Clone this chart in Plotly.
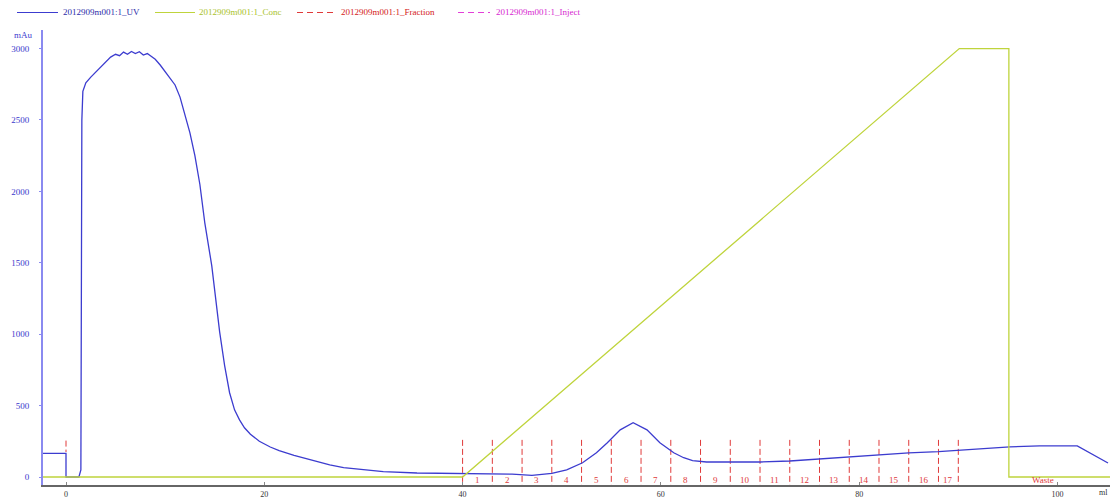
import plotly.graph_objects as go

# ---------------- data ----------------
uv_x = [-2.32, 0, 0, 1.3, 1.5, 1.6, 1.7, 2.0, 2.5, 3.0, 3.5, 4.0, 4.5, 5.0, 5.4, 5.8, 6.2, 6.6,
        7.0, 7.4, 7.8, 8.2, 8.6, 9.0, 9.5, 10.0, 10.5, 11.0, 11.5, 12.0, 12.5, 13.0, 13.5,
        14.0, 14.7, 15.5, 16.0, 16.5, 17.0, 17.5, 18.0, 18.6, 19.5, 20.6, 21.5, 23.0, 25.0,
        26.6, 28.0, 30.7, 32.0, 35.4, 39, 42, 45, 47, 49, 50.5,
        52.1, 53.5, 54.6, 55.9, 57.2, 58.6, 59.9, 61.3, 62.3, 63.2, 64.6, 67, 70, 73, 76,
        79, 82, 85, 88, 90.5, 95.2, 98.2, 102, 105.1]
uv_y = [165, 165, 0, 0, 50, 2500, 2700, 2760, 2800, 2835, 2870, 2905, 2940, 2960, 2950, 2975,
        2960, 2980, 2965, 2978, 2955, 2965, 2945, 2925, 2885, 2840, 2795, 2745, 2660, 2540,
        2410, 2250, 2050, 1780, 1480, 1015, 780, 590, 470, 400, 345, 300, 250, 210, 185, 152,
        112, 85, 66, 44, 38, 28, 25, 22, 20, 12, 25, 50,
        100, 170, 240, 330, 380, 330, 240, 170, 135, 115, 105, 105, 105, 112, 127, 141, 155,
        169, 178, 190, 211, 218, 218, 98]

conc_x = [-2.32, 40, 90.1, 95.1, 95.1, 105.3]
conc_y = [0, 0, 100, 100, 0, 0]  # %B

frac_bounds = [40, 43, 46, 49, 52, 55, 58, 61, 64, 67, 70, 73, 76, 79, 82, 85, 88, 90]
frac_labels = [str(i) for i in range(1, 18)]
waste_x = 98.5
waste_label = "Waste"

inject_x = 0

x_ticks = [0, 20, 40, 60, 80, 100]
y_ticks = [0, 500, 1000, 1500, 2000, 2500, 3000]

legend_names = ["2012909m001:1_UV", "2012909m001:1_Conc",
                "2012909m001:1_Fraction", "2012909m001:1_Inject"]

# ---------------- styles ----------------
UV_C = "#3c3ccf"
CONC_C = "#bfd43c"
FRAC_C = "#e03a3a"
INJ_C = "#e33fd8"
FONT = "Liberation Serif"

XR = [-2.32, 105.3]
YR = [-56, 3130]
Y2R = [YR[0] / 30.0, YR[1] / 30.0]

W, H = 1120, 499
ML, MR, MT, MB = 43, 10, 30, 14
PW, PH = W - ML - MR, H - MT - MB


def px(xp):
    return (xp - ML) / PW


def py(yp):
    return (H - MB - yp) / PH


fig = go.Figure()

# Conc
fig.add_trace(go.Scatter(x=conc_x, y=conc_y, mode="lines", yaxis="y2",
                         line=dict(color=CONC_C, width=1.3), hoverinfo="skip"))

# Fraction marks
fx, fy = [], []
for b in frac_bounds:
    fx += [b, b, None]
    fy += [260, YR[0], None]
fig.add_trace(go.Scatter(x=fx, y=fy, mode="lines",
                         line=dict(color=FRAC_C, width=1, dash="6px,3px"), hoverinfo="skip"))

# Inject mark
fig.add_trace(go.Scatter(x=[inject_x, inject_x], y=[255, 175], mode="lines",
                         line=dict(color=FRAC_C, width=1, dash="6px,3px"), hoverinfo="skip"))

# UV
fig.add_trace(go.Scatter(x=uv_x, y=uv_y, mode="lines",
                         line=dict(color=UV_C, width=1.3), hoverinfo="skip"))

# Fraction labels
for i, lab in enumerate(frac_labels):
    cx = (frac_bounds[i] + frac_bounds[i + 1]) / 2
    fig.add_annotation(x=cx, y=-22, text=lab, showarrow=False,
                       font=dict(family=FONT, size=9, color=FRAC_C))
fig.add_annotation(x=waste_x, y=-22, text=waste_label, showarrow=False,
                   font=dict(family=FONT, size=9, color=FRAC_C))

# Axis titles
fig.add_annotation(xref="paper", yref="paper", x=px(12), y=py(35), text="mAu",
                   showarrow=False, xanchor="left", yanchor="middle",
                   font=dict(family=FONT, size=9, color=UV_C))
fig.add_annotation(xref="paper", yref="paper", x=px(1103), y=py(492), text="ml",
                   showarrow=False, xanchor="center", yanchor="middle",
                   font=dict(family=FONT, size=8, color="#333333"))

# Manual legend
leg = [
    (17, 58, UV_C, "solid", 61, legend_names[0], "#2a2aa8"),
    (155, 195, CONC_C, "solid", 197, legend_names[1], "#a9c22a"),
    (297, 333, FRAC_C, "6px,4px", 339, legend_names[2], "#d42020"),
    (458, 490, INJ_C, "6px,4px", 494, legend_names[3], "#d61fd0"),
]
for x0, x1, c, d, tx, name, tc in leg:
    fig.add_shape(type="line", xref="paper", yref="paper", x0=px(x0), x1=px(x1),
                  y0=py(12.5), y1=py(12.5), line=dict(color=c, width=1.2, dash=d))
    fig.add_annotation(xref="paper", yref="paper", x=px(tx), y=py(12.5), text=name,
                       showarrow=False, xanchor="left", yanchor="middle",
                       font=dict(family=FONT, size=9, color=tc))

fig.update_layout(
    width=W, height=H,
    margin=dict(l=ML, r=MR, t=MT, b=MB, autoexpand=False),
    paper_bgcolor="white", plot_bgcolor="white",
    showlegend=False,
    xaxis=dict(range=XR, tickvals=x_ticks, ticktext=[str(v) for v in x_ticks],
               showgrid=False, zeroline=False, showline=True, linecolor="#666666",
               linewidth=2, ticks="inside", ticklen=3, tickcolor="#888888",
               ticklabelstandoff=0,
               tickfont=dict(family=FONT, size=8, color="#333333"), automargin=False),
    yaxis=dict(range=YR, tickvals=y_ticks, ticktext=[str(v) for v in y_ticks],
               showgrid=False, zeroline=False, showline=True, linecolor="#8a8af0",
               linewidth=2, ticks="outside", ticklen=2, tickcolor="#8a8af0",
               ticklabelstandoff=8,
               tickfont=dict(family=FONT, size=9, color="#3a3acc"), automargin=False),
    yaxis2=dict(range=Y2R, overlaying="y", visible=False),
)

fig.write_html("out.html")
